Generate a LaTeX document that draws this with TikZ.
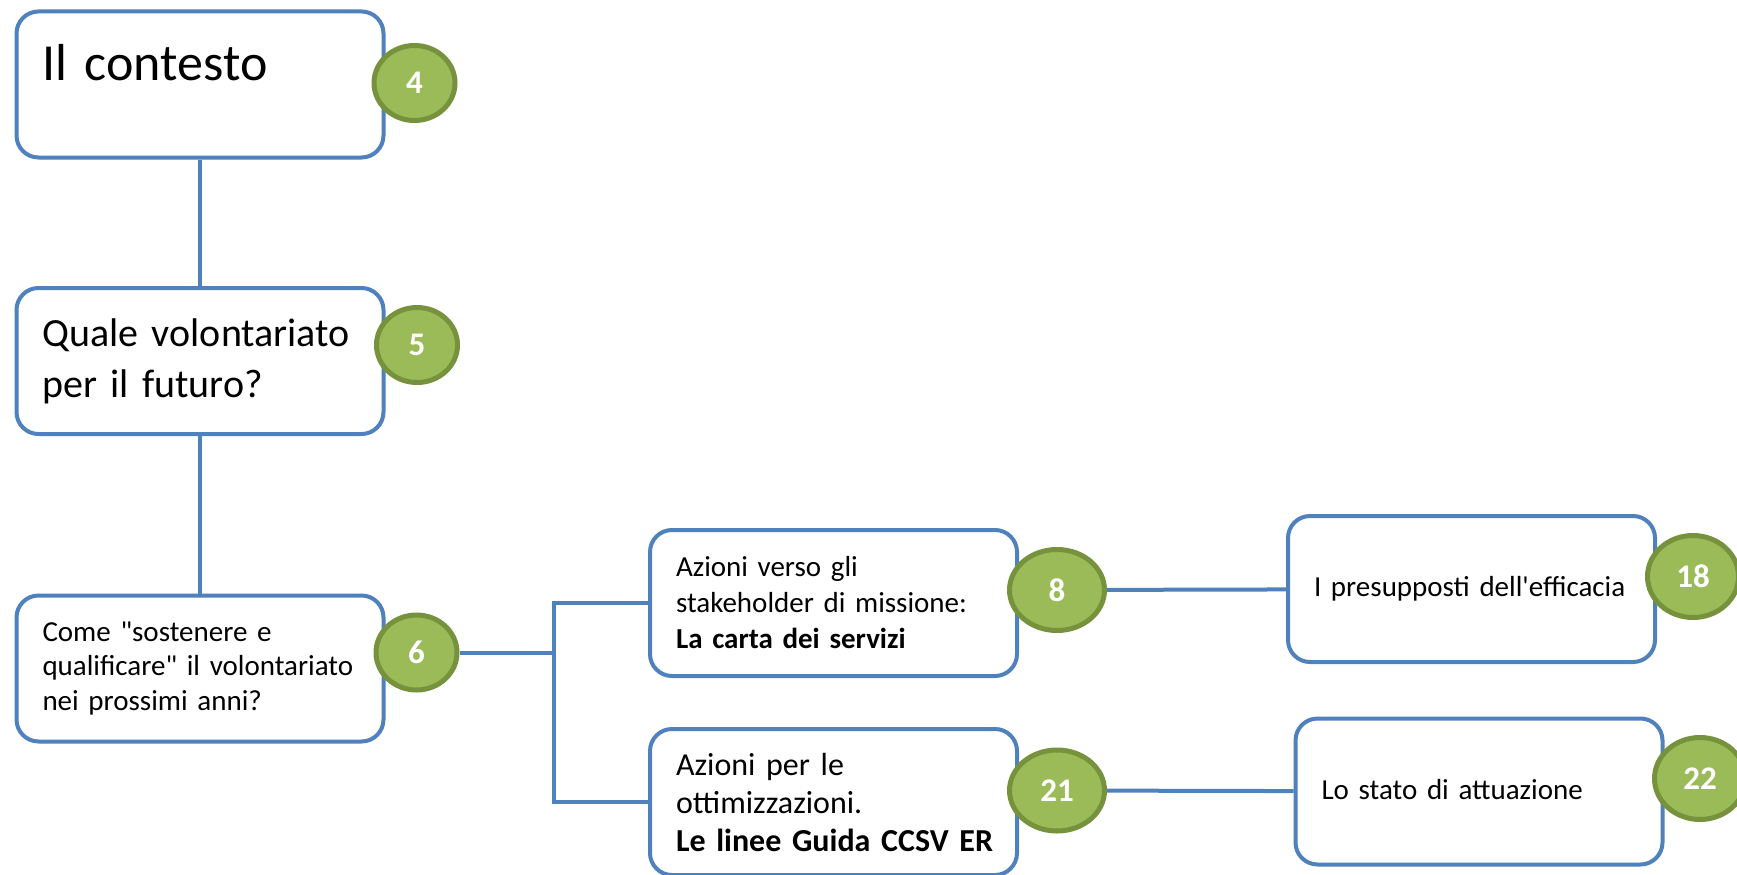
\documentclass[tikz,border=0pt]{standalone}
\usepackage{fontspec}
\setmainfont{Carlito}
\usepackage{tikz}
\usetikzlibrary{shapes.geometric, positioning}
\definecolor{boxblue}{RGB}{79,129,189}
\definecolor{pagegreen}{RGB}{155,187,89}
\definecolor{pageolive}{RGB}{118,146,60}

\begin{document}
\begin{tikzpicture}[
    x=1pt, y=-1pt,
    topic/.style={draw=boxblue, line width=4pt, fill=white, rounded corners=22pt, minimum width=367pt, minimum height=146pt, inner xsep=26pt, text width=315pt, align=left},
    oneline/.style={topic, font=\fontsize{29}{36}\selectfont, text height=21pt, text depth=6pt},
    pagenum/.style={ellipse, draw=pageolive, line width=5pt, fill=pagegreen, text=white, font=\fontsize{33}{38}\selectfont\bfseries, inner sep=0pt},
    smallnum/.style={pagenum, minimum width=81pt, minimum height=75pt},
    widenum/.style={pagenum, minimum width=95pt, minimum height=81pt},
    bignum/.style={pagenum, minimum width=91pt, minimum height=82pt},
    link/.style={draw=boxblue, line width=4pt}
]
    \path[use as bounding box, fill=white] (0,0) rectangle (1737,875);

    % Topics
    \node[topic, font=\fontsize{52}{62}\selectfont, text height=40pt, text depth=47pt] (contesto) at (200,84.5) {Il contesto};
    \node[topic, font=\fontsize{40}{51}\selectfont] (futuro) at (200,361) {Quale volontariato\\per il futuro?};
    \node[topic, font=\fontsize{29}{34.5}\selectfont] (sostenere) at (200,668.5) {Come \textquotedbl sostenere e\\qualificare\textquotedbl{} il volontariato\\nei prossimi anni?};
    \node[topic, font=\fontsize{29}{36}\selectfont] (missione) at (833.5,603) {Azioni verso gli\\stakeholder di missione:\\\textbf{La carta dei servizi}};
    \node[topic, font=\fontsize{32}{38}\selectfont] (linee) at (833.5,802) {Azioni per le\\ottimizzazioni.\\\mbox{\textbf{Le linee Guida CCSV ER}}};
    \node[oneline] (efficacia) at (1471.5,589) {I presupposti dell\textquotesingle efficacia};
    \node[oneline] (attuazione) at (1479,791.5) {Lo stato di attuazione};

    % Page numbers
    \node[smallnum] (p4) at (414.5,83) {4};
    \node[smallnum] (p5) at (417,345) {5};
    \node[smallnum] (p6) at (416.5,652.5) {6};
    \node[widenum] (p8) at (1057,590) {8};
    \node[widenum] (p21) at (1057,790.5) {21};
    \node[bignum] (p18) at (1693,576.5) {18};
    \node[bignum] (p22) at (1700,778.5) {22};

    % Connections
    \coordinate (fork) at (554,652.5);
    \draw[link] (contesto) -- (futuro);
    \draw[link] (futuro) -- (sostenere);
    \draw[link] (p6) -- (fork);
    \draw[link] (missione.west) -| (fork) |- (linee.west);
    \draw[link] (p8) -- (efficacia);
    \draw[link] (p21) -- (attuazione);
\end{tikzpicture}
\end{document}
